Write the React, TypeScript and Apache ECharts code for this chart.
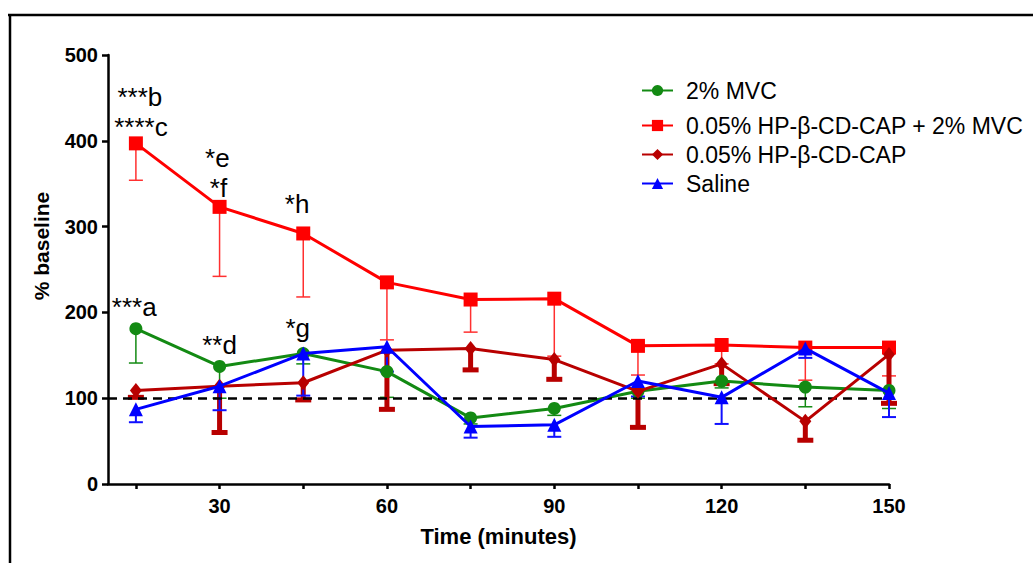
import React, { useEffect, useRef } from "react";
import * as echarts from "echarts";

const times = [15, 30, 45, 60, 75, 90, 105, 120, 135, 150];
const mvc = [181, 137, 152, 131, 77, 88, 108, 120, 113, 109];
const mvcLow = [141, 100, 140, 101, 70, 80, 100, 112, 90, 88];
const combo = [397, 323, 292, 235, 215, 216, 161, 162, 159, 159];
const comboLow = [354, 242, 218, 168, 177, 149, 127, 140, 121, 126];
const capOnly = [109, 114, 118, 156, 158, 145, 108, 140, 73, 151];
const capOnlyLow = [101, 60, 98, 87, 133, 122, 66, 117, 51, 94];
const saline = [87, 114, 152, 160, 67, 69, 120, 101, 158, 106];
const salineLow = [72, 86, 103, 131, 54, 55, 102, 70, 147, 78];

const xTicks = [15, 30, 45, 60, 75, 90, 105, 120, 135, 150];
const xLabels = [30, 60, 90, 120, 150];

const annText = ["***b", "****c", "*e", "*f", "*h", "***a", "**d", "*g"];
const annX = [15.7, 15.9, 29.6, 29.8, 43.9, 14.7, 30, 44];
const annY = [451, 416, 380, 345, 326, 206, 162, 182];

const names = [
  "2% MVC",
  "0.05% HP-β-CD-CAP + 2% MVC",
  "0.05% HP-β-CD-CAP",
  "Saline",
];
const legendCenters = [91, 126, 155, 184];

const FONT = "Liberation Sans, Arial, sans-serif";

export default function App() {
  const ref = useRef<HTMLDivElement>(null);
  useEffect(() => {
    if (!ref.current) return;
    const chart = echarts.init(ref.current, null, { renderer: "svg" });

    const lineSeries = (
      name: string,
      vals: number[],
      color: string,
      symbol: string,
      symbolSize: any,
      z: number
    ) => ({
      type: "line",
      name,
      data: times.map((t, i) => [t, vals[i]]),
      symbol,
      symbolSize,
      showSymbol: true,
      lineStyle: { color, width: 3 },
      itemStyle: { color },
      z,
    });

    const errSeries = (
      name: string,
      vals: number[],
      lows: number[],
      color: string,
      w: number,
      capHalf: number,
      z: number
    ) => ({
      type: "custom",
      name,
      data: times.map((t, i) => [t, vals[i], lows[i]]),
      encode: { x: 0, y: 1 },
      z,
      renderItem: (params: any, api: any) => {
        const top = api.coord([api.value(0), api.value(1)]);
        const bot = api.coord([api.value(0), api.value(2)]);
        return {
          type: "group",
          children: [
            {
              type: "line",
              shape: { x1: top[0], y1: top[1], x2: bot[0], y2: bot[1] },
              style: { stroke: color, lineWidth: w },
            },
            {
              type: "line",
              shape: {
                x1: bot[0] - capHalf,
                y1: bot[1],
                x2: bot[0] + capHalf,
                y2: bot[1],
              },
              style: { stroke: color, lineWidth: w },
            },
          ],
        };
      },
    });

    const option: any = {
      animation: false,
      grid: { left: 108, top: 55, right: 144, bottom: 79 },
      xAxis: {
        type: "value",
        min: 10,
        max: 150,
        name: "Time (minutes)",
        nameLocation: "middle",
        nameGap: 41,
        nameTextStyle: { fontFamily: FONT, fontSize: 22, fontWeight: "bold", color: "#000" },
        axisLine: { lineStyle: { color: "#000", width: 2.5 } },
        axisTick: { show: true, customValues: xTicks, length: 5, lineStyle: { color: "#000", width: 2.5 } },
        axisLabel: {
          customValues: xLabels,
          fontFamily: FONT,
          fontSize: 20,
          fontWeight: "bold",
          color: "#000",
          margin: 12,
        },
        splitLine: { show: false },
      },
      yAxis: {
        type: "value",
        min: 0,
        max: 500,
        interval: 100,
        axisLine: { show: true, lineStyle: { color: "#000", width: 2.5 } },
        axisTick: { show: true, length: 6, lineStyle: { color: "#000", width: 2.5 } },
        axisLabel: { fontFamily: FONT, fontSize: 20, fontWeight: "bold", color: "#000", margin: 10 },
        splitLine: { show: false },
      },
      legend: names.map((n, i) => ({
        data: [n],
        left: 636,
        top: legendCenters[i] - 17,
        itemWidth: 31,
        itemHeight: 14,
        itemGap: 0,
        textStyle: { fontFamily: FONT, fontSize: 23, color: "#000", padding: [0, 0, 0, 8] },
      })),
      graphic: [
        { type: "line", shape: { x1: 8, y1: 15, x2: 1033, y2: 15 }, style: { stroke: "#000", lineWidth: 2.5 } },
        { type: "line", shape: { x1: 10, y1: 15, x2: 10, y2: 563 }, style: { stroke: "#000", lineWidth: 2.5 } },
        {
          type: "text",
          x: 41,
          y: 246,
          rotation: Math.PI / 2,
          style: {
            text: "% baseline",
            fontFamily: FONT,
            fontSize: 21,
            fontWeight: "bold",
            fill: "#000",
            textAlign: "center",
            textVerticalAlign: "middle",
          },
        },
      ],
      series: [
        errSeries("err-mvc", mvc, mvcLow, "#138a13", 1.5, 7, 2),
        errSeries("err-combo", combo, comboLow, "#ff3030", 1.5, 7, 2),
        errSeries("err-cap", capOnly, capOnlyLow, "#b80000", 5, 8, 2),
        errSeries("err-saline", saline, salineLow, "#1010ff", 2, 7, 2),
        {
          ...lineSeries(names[0], mvc, "#138a13", "circle", 13, 3),
          markLine: {
            silent: true,
            symbol: "none",
            label: { show: false },
            lineStyle: { color: "#000", width: 2.5, type: [9, 6] },
            data: [{ yAxis: 100 }],
          },
        },
        lineSeries(names[1], combo, "#ff0000", "rect", 14, 4),
        lineSeries(names[2], capOnly, "#b80000", "diamond", [12, 15], 5),
        lineSeries(names[3], saline, "#0000ff", "triangle", 14, 6),
        {
          type: "scatter",
          name: "annotations",
          data: annText.map((t, i) => [annX[i], annY[i], t]),
          symbolSize: 0,
          silent: true,
          z: 10,
          label: {
            show: true,
            position: "inside",
            formatter: (p: any) => p.data[2],
            fontFamily: FONT,
            fontSize: 26,
            color: "#000",
            opacity: 1,
          },
        },
      ],
    };
    chart.setOption(option);
    return () => chart.dispose();
  }, []);
  return (
    <div
      ref={ref}
      style={{ position: "absolute", left: 0, top: 0, width: 1033, height: 563, background: "#fff" }}
    />
  );
}
